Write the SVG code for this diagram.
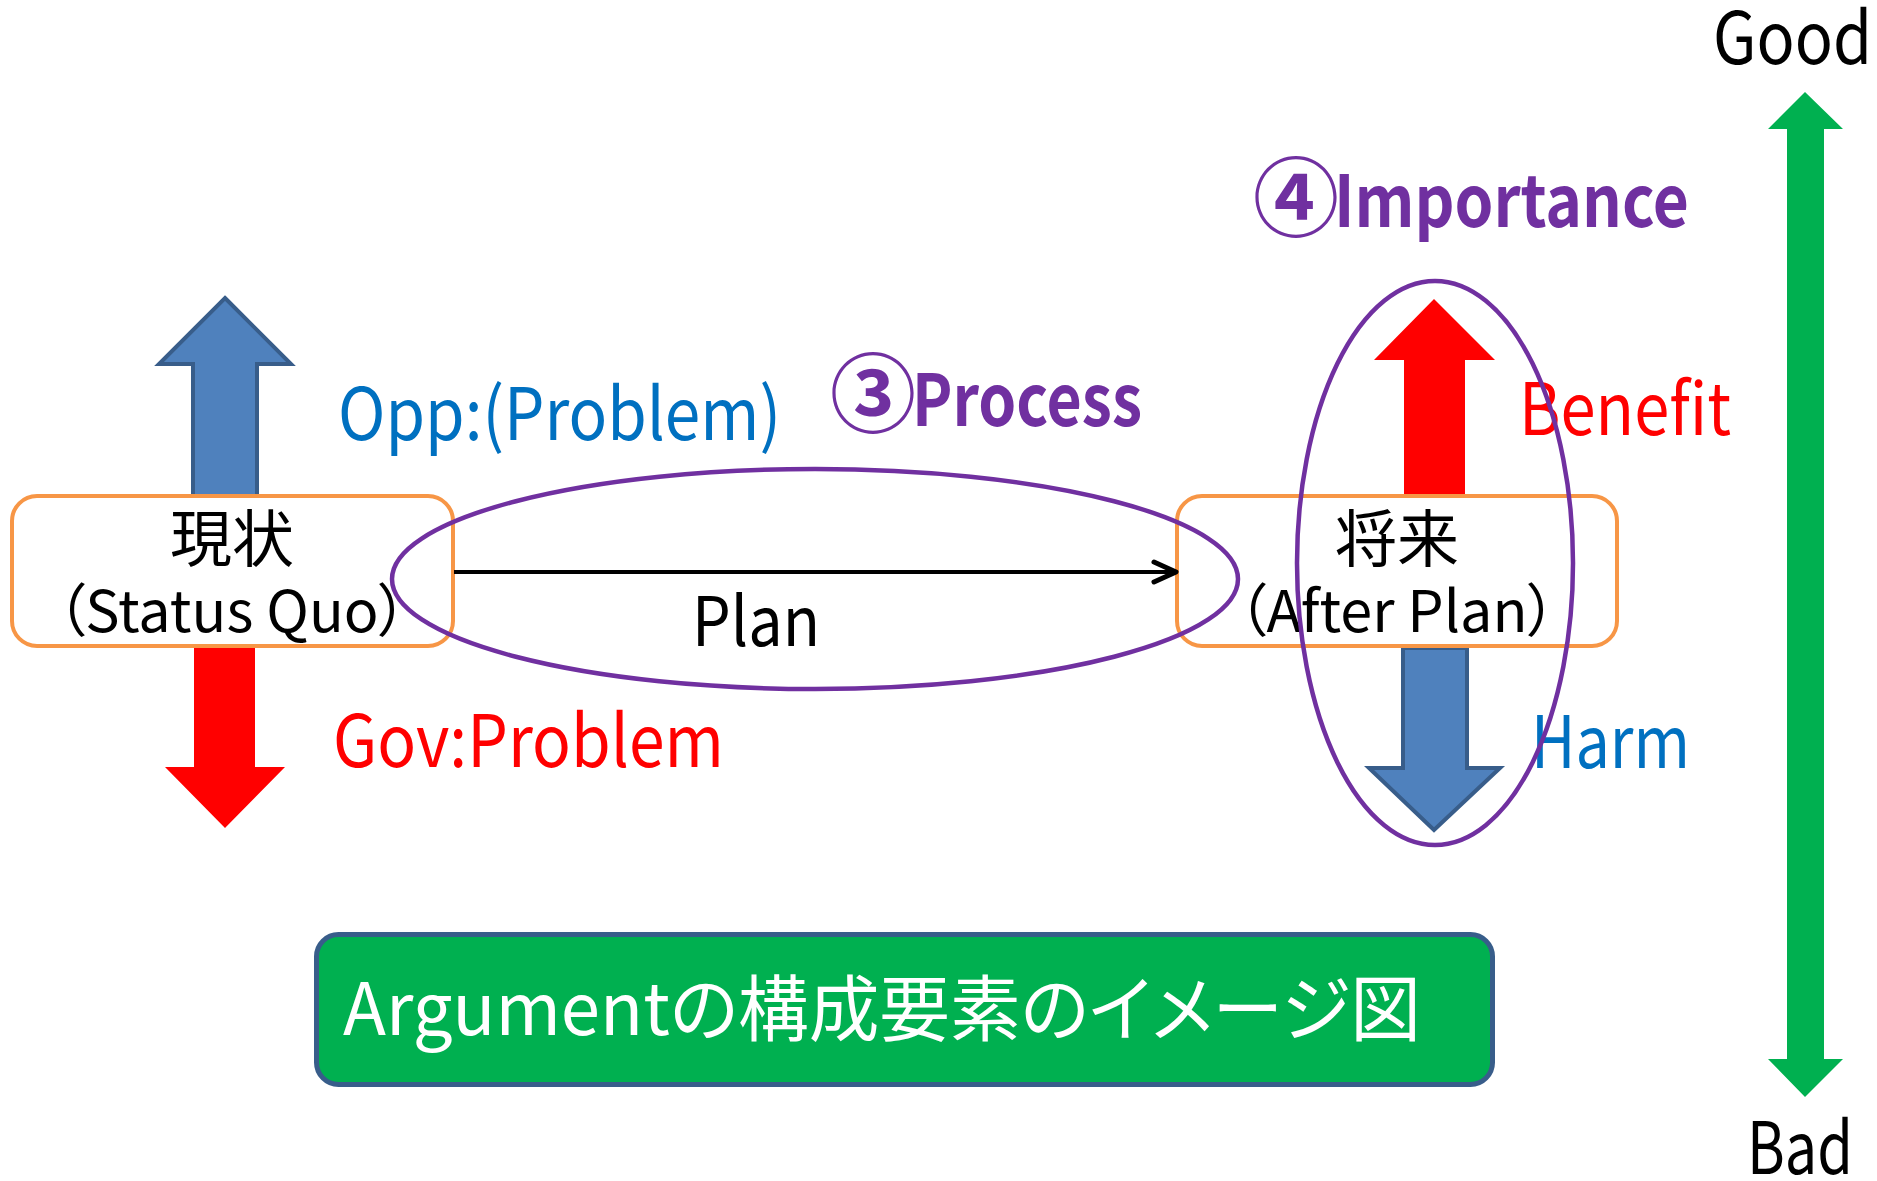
<svg xmlns="http://www.w3.org/2000/svg" width="1877" height="1181" viewBox="0 0 1877 1181">
<style>
text{font-family:"Noto Sans CJK JP","Noto Sans",sans-serif;font-feature-settings:"palt";}
.lbl{font-size:72px;}
.node{font-size:62px;fill:#000;text-anchor:middle;}
.sub{font-size:57.5px;}
.box{fill:#fff;stroke:#F79646;stroke-width:4;}
.ring{fill:none;stroke:#7030A0;stroke-width:4.5;}
.blue{fill:#4F81BD;stroke:#385D8A;stroke-width:4;}
.red{fill:#FF0000;}
.bold{font-size:72px;font-weight:bold;fill:#7030A0;}
.num{font-size:86px;font-weight:bold;}
</style>
<defs>
<marker id="open" viewBox="0 0 30 30" markerWidth="30" markerHeight="30" refX="26" refY="15" markerUnits="userSpaceOnUse" orient="auto">
<path d="M4,5 L26,15 L4,25" fill="none" stroke="#000" stroke-width="5" stroke-linecap="round" stroke-linejoin="round"/>
</marker>
</defs>
<rect width="1877" height="1181" fill="#fff"/>

<g id="arrows-status-quo">
<polygon class="blue" points="225,298 291,364 257,364 257,496 193,496 193,364 159,364"/>
<polygon class="red" points="194,647 255,647 255,767 285,767 225,828 165,767 194,767"/>
</g>
<g id="arrows-after-plan">
<polygon class="red" points="1434,299 1495,360 1465,360 1465,494 1404,494 1404,360 1374,360"/>
<polygon class="blue" points="1403,648 1467,648 1467,768 1500,768 1434,830 1369,768 1403,768"/>
</g>

<g id="node-status-quo">
<rect class="box" x="12" y="496" width="441" height="150" rx="25"/>
<text class="node"><tspan x="232" y="562">現状</tspan><tspan class="sub" x="232" y="632">（Status Quo）</tspan></text>
</g>

<g id="node-after-plan">
<rect class="box" x="1177" y="496" width="440" height="150" rx="25"/>
<text class="node"><tspan x="1397" y="562">将来</tspan><tspan class="sub" x="1397" y="632">（After Plan）</tspan></text>
</g>

<g id="connectors">
<line x1="454" y1="572" x2="1176" y2="572" stroke="#000" stroke-width="4" marker-end="url(#open)"/>
</g>

<g id="labels">
<text class="lbl" x="338" y="440" fill="#0070C0" textLength="443" lengthAdjust="spacingAndGlyphs">Opp:(Problem)</text>
<text class="lbl" x="333" y="767" fill="#FF0000" textLength="391" lengthAdjust="spacingAndGlyphs">Gov:Problem</text>
<text class="lbl" x="1519" y="435" fill="#FF0000" textLength="212" lengthAdjust="spacingAndGlyphs">Benefit</text>
<text class="lbl" x="1531" y="768" fill="#0070C0" textLength="159" lengthAdjust="spacingAndGlyphs">Harm</text>
<text x="692" y="646" font-size="68" fill="#000" textLength="128" lengthAdjust="spacingAndGlyphs">Plan</text>
<text class="bold" y="426"><tspan class="num" x="830">③</tspan><tspan x="912" textLength="230" lengthAdjust="spacingAndGlyphs">Process</tspan></text>
<text class="bold" y="230"><tspan class="num" x="1253">④</tspan><tspan x="1334" y="227" textLength="355" lengthAdjust="spacingAndGlyphs">Importance</tspan></text>
</g>

<g id="process-ring">
<ellipse class="ring" cx="815" cy="579" rx="423" ry="110"/>
</g>
<g id="importance-ring">
<ellipse class="ring" cx="1435" cy="563" rx="138" ry="282"/>
</g>

<g id="scale">
<polygon fill="#00B050" points="1805,92 1843,129 1824,129 1824,1059 1843,1059 1805,1097 1768,1059 1787,1059 1787,129 1768,129"/>
<text class="lbl" x="1713" y="64" fill="#000" textLength="159" lengthAdjust="spacingAndGlyphs">Good</text>
<text class="lbl" x="1747" y="1174" fill="#000" textLength="106" lengthAdjust="spacingAndGlyphs">Bad</text>
</g>

<g id="title">
<rect x="316.5" y="934.5" width="1176" height="150" rx="22" fill="#00B050" stroke="#385D8A" stroke-width="5"/>
<text class="lbl" x="343" y="1035" fill="#fff" textLength="1078" lengthAdjust="spacingAndGlyphs">Argumentの構成要素のイメージ図</text>
</g>
</svg>
